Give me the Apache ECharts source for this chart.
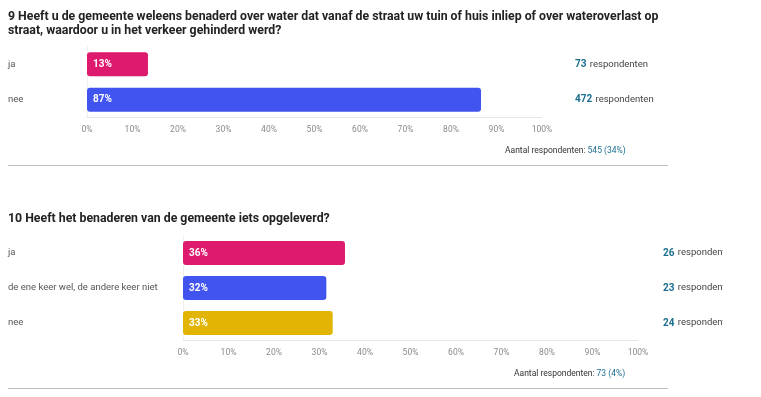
<!DOCTYPE html>
<html>
<head>
<meta charset="utf-8">
<script src="https://cdn.jsdelivr.net/npm/echarts@6/dist/echarts.min.js"></script>
<style>
  html, body { margin: 0; padding: 0; background: #fff; }
  #chart { width: 761px; height: 397px; }
</style>
</head>
<body>
<div id="chart"></div>
<script>
// vraag 9
const q9Title = '9 Heeft u de gemeente weleens benaderd over water dat vanaf de straat uw tuin of huis inliep of over wateroverlast op\nstraat, waardoor u in het verkeer gehinderd werd?'
const q9Categories = ['ja', 'nee']
const q9Values = [13.4, 86.6]
const q9Labels = ['13%', '87%']
const q9Counts = [73, 472]
const q9Total = '545 (34%)'

// vraag 10
const q10Title = '10 Heeft het benaderen van de gemeente iets opgeleverd?'
const q10Categories = ['ja', 'de ene keer wel, de andere keer niet', 'nee']
const q10Values = [35.6, 31.5, 32.9]
const q10Labels = ['36%', '32%', '33%']
const q10Counts = [26, 23, 24]
const q10Total = '73 (4%)'

const tickLabels = ['0%', '10%', '20%', '30%', '40%', '50%', '60%', '70%', '80%', '90%', '100%']
const barColors = ['#DE1A6E', '#4254EF', '#E2B404']

const font = 'Roboto, "Noto Sans", sans-serif'
const chart = echarts.init(document.getElementById('chart'))

const xAxisCfg = (gridIndex) => ({
  type: 'value',
  gridIndex,
  min: 0,
  max: 100,
  interval: 10,
  splitLine: { show: false },
  axisLine: { show: true, lineStyle: { color: '#e6e6e6', width: 1 } },
  axisTick: { show: false },
  axisLabel: {
    color: '#8a8a8a',
    fontSize: 8.5,
    fontFamily: font,
    margin: 8,
    formatter: (v) => tickLabels[Math.round(v / 10)]
  }
})

const yLeftCfg = (gridIndex, cats, margin) => ({
  type: 'category',
  gridIndex,
  data: cats,
  inverse: true,
  axisLine: { show: true, lineStyle: { color: '#f0f0f0' } },
  axisTick: { show: false },
  axisLabel: {
    align: 'left',
    margin,
    color: '#555',
    fontSize: 9.5,
    fontFamily: font
  }
})

const yRightCfg = (gridIndex, counts, margin) => ({
  type: 'category',
  gridIndex,
  position: 'right',
  data: counts.map(String),
  inverse: true,
  axisLine: { show: false },
  axisTick: { show: false },
  axisLabel: {
    margin,
    formatter: (v) => '{n|' + v + '} {t|respondenten}',
    rich: {
      n: { color: '#1b6e8f', fontWeight: 'bold', fontSize: 10, fontFamily: font },
      t: { color: '#444', fontSize: 9.5, fontFamily: font }
    }
  }
})

const barSeries = (idx, values, labels) => ({
  type: 'bar',
  xAxisIndex: idx,
  yAxisIndex: idx * 2,
  barWidth: 24,
  data: values.map((v, i) => ({
    value: v,
    itemStyle: { color: barColors[i], borderRadius: 3 }
  })),
  label: {
    show: true,
    position: 'insideLeft',
    distance: 6,
    color: '#fff',
    fontWeight: 'bold',
    fontSize: 10,
    fontFamily: font,
    formatter: (p) => labels[p.dataIndex]
  },
  silent: true
})

const totalTitle = (val, left, top) => ({
  text: '{a|Aantal respondenten: }{b|' + val + '}',
  left,
  top,
  padding: 0,
  textStyle: {
    rich: {
      a: { color: '#333', fontSize: 8.5, fontWeight: 'normal', fontFamily: font },
      b: { color: '#1b6e8f', fontSize: 8.5, fontWeight: 'normal', fontFamily: font }
    }
  }
})

const option = {
  animation: false,
  backgroundColor: '#fff',
  title: [
    {
      text: q9Title,
      left: 8,
      top: 10,
      padding: 0,
      textStyle: { color: '#222', fontSize: 12.3, fontWeight: 'bold', fontFamily: font, lineHeight: 14 }
    },
    {
      text: q10Title,
      left: 8,
      top: 213,
      padding: 0,
      textStyle: { color: '#222', fontSize: 12.3, fontWeight: 'bold', fontFamily: font }
    },
    totalTitle(q9Total, 505, 146),
    totalTitle(q10Total, 514, 369)
  ],
  grid: [
    { left: 87, right: 219, top: 46.5, height: 71 },
    { left: 183, right: 123, top: 235.5, height: 105 }
  ],
  xAxis: [xAxisCfg(0), xAxisCfg(1)],
  yAxis: [
    yLeftCfg(0, q9Categories, 79),
    yRightCfg(0, q9Counts, 33),
    yLeftCfg(1, q10Categories, 175),
    yRightCfg(1, q10Counts, 25)
  ],
  series: [barSeries(0, q9Values, q9Labels), barSeries(1, q10Values, q10Labels)],
  graphic: [
    { type: 'line', shape: { x1: 8, y1: 165.5, x2: 668, y2: 165.5 }, style: { stroke: '#bdbdbd', lineWidth: 1 } },
    { type: 'line', shape: { x1: 8, y1: 388.5, x2: 668, y2: 388.5 }, style: { stroke: '#bdbdbd', lineWidth: 1 } },
    // rechterkant is afgesneden in het origineel
    { type: 'rect', z: 100, shape: { x: 723, y: 238, width: 38, height: 100 }, style: { fill: '#fff' } }
  ]
}

chart.setOption(option)
</script>
</body>
</html>
